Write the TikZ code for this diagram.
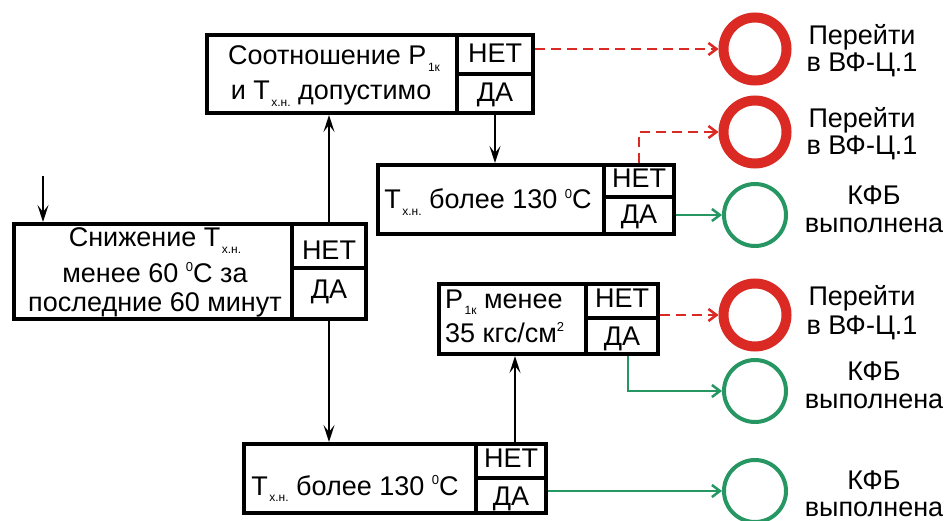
\documentclass[tikz,border=0pt]{standalone}
\usepackage{fontspec}
\setmainfont{Liberation Sans}
\usetikzlibrary{arrows.meta}
\definecolor{stopred}{RGB}{219,41,36}
\definecolor{okgreen}{RGB}{38,150,98}
% small lowered index and small raised index
\newcommand\lowsub[1]{\kern1.5pt\raisebox{-6.5pt}{\fontsize{12}{12}\selectfont #1}}
\newcommand\hisup[1]{\raisebox{10.5pt}{\fontsize{13}{13}\selectfont #1}}
% decision block: name, x-left, x-split, x-right, y-top, y-split, y-bottom
\newcommand\decision[7]{%
  \node[cell, minimum width={(#3-#2)*1pt}, minimum height={(#7-#5)*1pt}]
    (#1) at ({(#2+#3)/2},{(#5+#7)/2}) {};
  \node[cell, minimum width={(#4-#3)*1pt}, minimum height={(#6-#5)*1pt}]
    (#1-net) at ({(#3+#4)/2},{(#5+#6)/2}) {};
  \node[cell, minimum width={(#4-#3)*1pt}, minimum height={(#7-#6)*1pt}]
    (#1-da) at ({(#3+#4)/2},{(#6+#7)/2}) {};
}
\begin{document}
\begin{tikzpicture}[x=1pt,y=-1pt,
  cell/.style={draw, line width=4pt, rectangle, inner sep=0pt},
  txt/.style={anchor=base, inner sep=0pt, font=\fontsize{27}{32}\selectfont},
  redring/.style={circle, draw=stopred, line width=10pt, minimum size=63pt, inner sep=0pt},
  greenring/.style={circle, draw=okgreen, line width=4pt, minimum size=62pt, inner sep=0pt},
  flow/.style={line width=2pt, -{Stealth[length=17pt,width=11pt,inset=7pt]}},
  nogo/.style={stopred, line width=2.5pt, dash pattern=on 10pt off 6pt, -{Straight Barb[length=8pt,width=12pt]}},
  go/.style={okgreen, line width=2.5pt, -{Straight Barb[length=8pt,width=12pt]}}]
\useasboundingbox (0,0) rectangle (949,521);

% decision blocks
\decision{ratio}{207}{457}{533}{35}{74}{113}
\decision{hot}{378}{604}{674}{165}{197}{234}
\decision{drop}{14}{292}{366}{224}{268}{319}
\decision{press}{439}{586}{658}{284}{318}{354}
\decision{hotb}{244}{476}{546}{444}{478}{513}

% block texts
\node[txt] (ratio-l1) at (334,65) {Соотношение P\lowsub{1к}};
\node[txt] (ratio-l2) at (331,100) {и T\lowsub{х.н.} допустимо};
\node[txt] (ratio-n) at (ratio-net |- 0,63) {НЕТ};
\node[txt] (ratio-d) at (ratio-da |- 0,102) {ДА};

\node[txt] (hot-l1) at (488,209) {T\lowsub{х.н.} более 130 \hisup{0}C};
\node[txt] (hot-n) at (hot-net |- 0,188) {НЕТ};
\node[txt] (hot-d) at (hot-da |- 0,224) {ДА};

\node[txt] (drop-l1) at (155,247) {Снижение T\lowsub{х.н.}};
\node[txt] (drop-l2) at (155,282) {менее 60 \hisup{0}C за};
\node[txt] (drop-l3) at (155,311) {последние 60 минут};
\node[txt] (drop-n) at (drop-net |- 0,259) {НЕТ};
\node[txt] (drop-d) at (drop-da |- 0,298) {ДА};

\node[txt, anchor=base west] (press-l1) at (445,308) {P\lowsub{1к} менее};
\node[txt, anchor=base west] (press-l2) at (445,342) {35 кгс/см\hisup{2}};
\node[txt] (press-n) at (press-net |- 0,307) {НЕТ};
\node[txt] (press-d) at (press-da |- 0,345) {ДА};

\node[txt] (hotb-l1) at (355,495) {T\lowsub{х.н.} более 130 \hisup{0}C};
\node[txt] (hotb-n) at (hotb-net |- 0,467) {НЕТ};
\node[txt] (hotb-d) at (hotb-da |- 0,505) {ДА};

% terminal rings
\node[redring] (c1) at (755,49) {};
\node[redring] (c2) at (755,132) {};
\node[greenring] (c3) at (755,215) {};
\node[redring] (c4) at (755,315) {};
\node[greenring] (c5) at (755,391) {};
\node[greenring] (c6) at (755,491) {};

% terminal captions
\node[txt] (t1a) at (862,45) {Перейти};
\node[txt] (t1b) at (862,72) {в ВФ-Ц.1};
\node[txt] (t2a) at (862,128) {Перейти};
\node[txt] (t2b) at (862,155) {в ВФ-Ц.1};
\node[txt] (t3a) at (874,205) {КФБ};
\node[txt] (t3b) at (874,233) {выполнена};
\node[txt] (t4a) at (862,305) {Перейти};
\node[txt] (t4b) at (862,334) {в ВФ-Ц.1};
\node[txt] (t5a) at (874,380) {КФБ};
\node[txt] (t5b) at (874,408) {выполнена};
\node[txt] (t6a) at (874,489) {КФБ};
\node[txt] (t6b) at (874,516) {выполнена};

% connectors
\coordinate (entry) at (43,176);
\draw[flow, line width=1.5pt] (entry) -- (entry |- drop.north);
\draw[flow] (drop-net.north) -- (drop-net.north |- ratio.south);
\draw[flow] (drop-da.south) -- (drop-da.south |- hotb.north);
\draw[flow] (ratio-da.south) -- (ratio-da.south |- hot.north);
\draw[flow] ([xshift=4pt]hotb-net.north) -- ([xshift=4pt]hotb-net.north |- press.south);

\draw[nogo] (ratio-net.east |- c1) -- (c1.west);
\draw[nogo] (hot-net.north) |- (c2.west);
\draw[nogo] (press-net.east |- c4) -- (c4.west);

\draw[go] (hot-da.east |- c3) -- (c3.west);
\draw[go] ([xshift=6pt]press-da.south) |- (c5.west);
\draw[go] (hotb-da.east |- c6) -- (c6.west);
\end{tikzpicture}
\end{document}
